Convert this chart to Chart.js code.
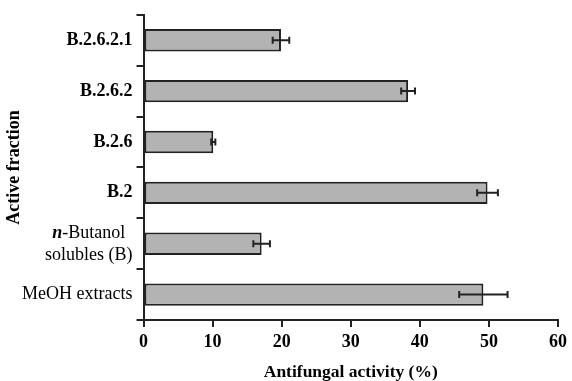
<!DOCTYPE html>
<html>
<head>
<meta charset="utf-8">
<script src="https://cdn.jsdelivr.net/npm/chart.js@4"></script>
<style>
  body { margin: 0; background: #fff; }
</style>
</head>
<body>
<canvas id="myChart" width="572" height="381"></canvas>
<script>
// Data
const fractions = ['B.2.6.2.1', 'B.2.6.2', 'B.2.6', 'B.2', ['n-Butanol', 'solubles (B)'], 'MeOH extracts'];
const activity = [19.9, 38.3, 10.1, 49.8, 17.1, 49.2];
const errors = [1.2, 1.0, 0.3, 1.5, 1.2, 3.5];
const xTicks = [0, 10, 20, 30, 40, 50, 60];

const SERIF = '"Liberation Serif", "Times New Roman", serif';
const INK = '#222';

// error bars drawn from the x scale
const errorBars = {
  id: 'errorBars',
  afterDatasetsDraw(chart) {
    const ctx = chart.ctx;
    const xs = chart.scales.x;
    const meta = chart.getDatasetMeta(0);
    ctx.save();
    ctx.strokeStyle = INK;
    ctx.lineWidth = 2;
    meta.data.forEach((bar, i) => {
      const lo = xs.getPixelForValue(activity[i] - errors[i]);
      const hi = xs.getPixelForValue(activity[i] + errors[i]);
      const y = bar.y;
      ctx.beginPath();
      ctx.moveTo(lo, y); ctx.lineTo(hi, y);
      ctx.moveTo(lo, y - 3.5); ctx.lineTo(lo, y + 3.5);
      ctx.moveTo(hi, y - 3.5); ctx.lineTo(hi, y + 3.5);
      ctx.stroke();
    });
    ctx.restore();
  }
};

// the n-Butanol label needs an italic "n", so it is drawn by hand
const butanolLabel = {
  id: 'butanolLabel',
  afterDraw(chart) {
    const ctx = chart.ctx;
    const ys = chart.scales.y;
    const y = ys.getPixelForTick(4);
    const right = ys.right - 7 - 4;
    ctx.save();
    ctx.fillStyle = '#000';
    ctx.textBaseline = 'middle';
    ctx.font = '18px ' + SERIF;
    const w2 = ctx.measureText('solubles (B)').width;
    const cx = right - w2 / 2;
    ctx.textAlign = 'center';
    ctx.fillText('solubles (B)', cx, y + 12);
    ctx.font = 'italic bold 18px ' + SERIF;
    const wn = ctx.measureText('n').width;
    ctx.font = '18px ' + SERIF;
    const wb = ctx.measureText('-Butanol').width;
    let x0 = cx - (wn + wb) / 2;
    ctx.textAlign = 'left';
    ctx.font = 'italic bold 18px ' + SERIF;
    ctx.fillText('n', x0, y - 10);
    ctx.font = '18px ' + SERIF;
    ctx.fillText('-Butanol', x0 + wn, y - 10);
    ctx.restore();
  }
};

const data = {
  labels: fractions,
  datasets: [{
    data: activity,
    backgroundColor: '#b3b3b3',
    borderColor: INK,
    borderWidth: 2,
    borderSkipped: false,
    barPercentage: 0.44,
    categoryPercentage: 1
  }]
};

const config = {
  type: 'bar',
  data,
  options: {
    indexAxis: 'y',
    responsive: false,
    animation: false,
    layout: { padding: { left: 4, right: 13, top: 14, bottom: 0 } },
    plugins: {
      legend: { display: false },
      tooltip: { enabled: false }
    },
    scales: {
      x: {
        min: 0,
        max: 60,
        afterBuildTicks: (scale) => { scale.ticks = xTicks.map(v => ({ value: v })); },
        afterFit: (scale) => { scale.height = 61; },
        border: { display: true, color: INK, width: 2 },
        grid: { drawOnChartArea: false, drawTicks: true, tickLength: 7, color: INK, lineWidth: 2 },
        ticks: { color: '#000', padding: 5, font: { family: SERIF, size: 18, weight: 'bold' } },
        title: {
          display: true,
          text: 'Antifungal activity (%)',
          color: '#000',
          padding: 0,
          font: { family: SERIF, size: 17.5, weight: 'bold', lineHeight: 1 }
        }
      },
      y: {
        afterFit: (scale) => { scale.width = 139.5; },
        border: { display: true, color: INK, width: 2 },
        grid: { offset: true, drawOnChartArea: false, drawTicks: true, tickLength: 7, color: INK, lineWidth: 2 },
        ticks: {
          padding: 4,
          color: (c) => c.index === 4 ? 'rgba(0,0,0,0)' : '#000',
          font: (c) => ({ family: SERIF, size: 18, weight: c.index >= 4 ? 'normal' : 'bold' })
        },
        title: {
          display: true,
          text: 'Active fraction',
          color: '#000',
          padding: { top: 1, bottom: 0 },
          font: { family: SERIF, size: 18, weight: 'bold', lineHeight: 1 }
        }
      }
    }
  },
  plugins: [errorBars, butanolLabel]
};

const myChart = new Chart(document.getElementById('myChart'), config);
</script>
</body>
</html>
